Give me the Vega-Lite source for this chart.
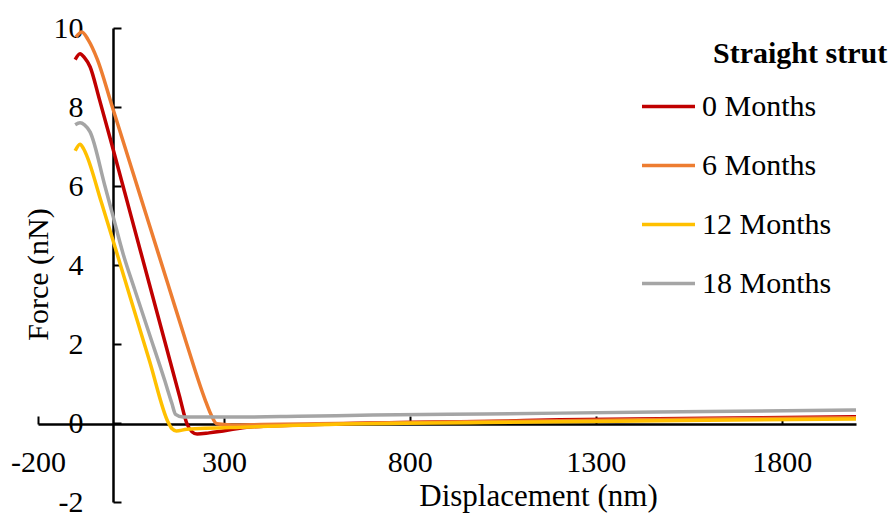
{
  "$schema": "https://vega.github.io/schema/vega-lite/v6.json",
  "width": 818,
  "height": 474,
  "autosize": {"type": "none"},
  "padding": {"left": 38, "top": 28, "right": 40, "bottom": 13},
  "background": "white",
  "config": {
    "view": {"stroke": null},
    "font": "Liberation Serif"
  },
  "data": {
    "values": [
      {"series": "0 Months", "x": -100, "y": 9.2},
      {"series": "0 Months", "x": -87, "y": 9.35},
      {"series": "0 Months", "x": -75, "y": 9.25},
      {"series": "0 Months", "x": -60, "y": 9.02},
      {"series": "0 Months", "x": -35, "y": 8.2},
      {"series": "0 Months", "x": 0, "y": 7.0},
      {"series": "0 Months", "x": 50, "y": 5.25},
      {"series": "0 Months", "x": 100, "y": 3.5},
      {"series": "0 Months", "x": 142, "y": 2.03},
      {"series": "0 Months", "x": 180, "y": 0.7},
      {"series": "0 Months", "x": 201, "y": -0.03},
      {"series": "0 Months", "x": 214, "y": -0.22},
      {"series": "0 Months", "x": 228, "y": -0.28},
      {"series": "0 Months", "x": 260, "y": -0.25},
      {"series": "0 Months", "x": 298, "y": -0.2},
      {"series": "0 Months", "x": 370, "y": -0.1},
      {"series": "0 Months", "x": 500, "y": -0.05},
      {"series": "0 Months", "x": 700, "y": 0.0},
      {"series": "0 Months", "x": 1000, "y": 0.04},
      {"series": "0 Months", "x": 1204, "y": 0.08},
      {"series": "0 Months", "x": 1600, "y": 0.12},
      {"series": "0 Months", "x": 2000, "y": 0.16},

      {"series": "6 Months", "x": -98, "y": 9.77},
      {"series": "6 Months", "x": -82, "y": 9.9},
      {"series": "6 Months", "x": -65, "y": 9.7},
      {"series": "6 Months", "x": -41, "y": 9.22},
      {"series": "6 Months", "x": 0, "y": 8.0},
      {"series": "6 Months", "x": 50, "y": 6.5},
      {"series": "6 Months", "x": 100, "y": 5.0},
      {"series": "6 Months", "x": 150, "y": 3.5},
      {"series": "6 Months", "x": 200, "y": 2.0},
      {"series": "6 Months", "x": 249, "y": 0.6},
      {"series": "6 Months", "x": 265, "y": 0.22},
      {"series": "6 Months", "x": 281, "y": -0.02},
      {"series": "6 Months", "x": 320, "y": -0.05},
      {"series": "6 Months", "x": 400, "y": -0.04},
      {"series": "6 Months", "x": 700, "y": 0.0},
      {"series": "6 Months", "x": 1000, "y": 0.04},
      {"series": "6 Months", "x": 1204, "y": 0.06},
      {"series": "6 Months", "x": 1600, "y": 0.1},
      {"series": "6 Months", "x": 2000, "y": 0.13},

      {"series": "12 Months", "x": -100, "y": 6.89},
      {"series": "12 Months", "x": -87, "y": 7.06},
      {"series": "12 Months", "x": -78, "y": 6.95},
      {"series": "12 Months", "x": -69, "y": 6.77},
      {"series": "12 Months", "x": -30, "y": 5.6},
      {"series": "12 Months", "x": 0, "y": 4.68},
      {"series": "12 Months", "x": 50, "y": 3.12},
      {"series": "12 Months", "x": 100, "y": 1.57},
      {"series": "12 Months", "x": 150, "y": 0.02},
      {"series": "12 Months", "x": 160, "y": -0.14},
      {"series": "12 Months", "x": 172, "y": -0.2},
      {"series": "12 Months", "x": 200, "y": -0.16},
      {"series": "12 Months", "x": 370, "y": -0.1},
      {"series": "12 Months", "x": 600, "y": -0.03},
      {"series": "12 Months", "x": 1000, "y": 0.01},
      {"series": "12 Months", "x": 1204, "y": 0.03},
      {"series": "12 Months", "x": 1600, "y": 0.07},
      {"series": "12 Months", "x": 2000, "y": 0.1},

      {"series": "18 Months", "x": -100, "y": 7.55},
      {"series": "18 Months", "x": -87, "y": 7.6},
      {"series": "18 Months", "x": -75, "y": 7.55},
      {"series": "18 Months", "x": -60, "y": 7.37},
      {"series": "18 Months", "x": -20, "y": 6.0},
      {"series": "18 Months", "x": 0, "y": 5.3},
      {"series": "18 Months", "x": 29, "y": 4.28},
      {"series": "18 Months", "x": 60, "y": 3.38},
      {"series": "18 Months", "x": 100, "y": 2.24},
      {"series": "18 Months", "x": 140, "y": 1.1},
      {"series": "18 Months", "x": 160, "y": 0.5},
      {"series": "18 Months", "x": 170, "y": 0.22},
      {"series": "18 Months", "x": 190, "y": 0.15},
      {"series": "18 Months", "x": 316, "y": 0.15},
      {"series": "18 Months", "x": 500, "y": 0.17},
      {"series": "18 Months", "x": 700, "y": 0.2},
      {"series": "18 Months", "x": 1000, "y": 0.23},
      {"series": "18 Months", "x": 1204, "y": 0.25},
      {"series": "18 Months", "x": 1600, "y": 0.29},
      {"series": "18 Months", "x": 2000, "y": 0.33}
    ]
  },
  "mark": {"type": "line", "strokeWidth": 3.5, "interpolate": "monotone"},
  "encoding": {
    "x": {
      "field": "x",
      "type": "quantitative",
      "scale": {"domain": [-200, 2000], "nice": false, "zero": false},
      "axis": {
        "title": "Displacement (nm)",
        "values": [-200, 300, 800, 1300, 1800],
        "labelExpr": "datum.value + ''",
        "offset": -78,
        "grid": false,
        "domainColor": "black",
        "domainWidth": 2.5,
        "tickColor": "black",
        "tickWidth": 2,
        "tickSize": -8,
        "labelFont": "Liberation Serif",
        "labelFontSize": 30,
        "labelColor": "black",
        "labelPadding": 31,
        "labelFlush": false,
        "labelOverlap": false,
        "titleFont": "Liberation Serif",
        "titleFontSize": 31,
        "titleFontWeight": "normal",
        "titleColor": "black",
        "titleX": 500,
        "titleY": 81,
        "titleBaseline": "alphabetic"
      }
    },
    "y": {
      "field": "y",
      "type": "quantitative",
      "scale": {"domain": [-2, 10], "nice": false, "zero": false},
      "axis": {
        "title": "Force (nN)",
        "values": [-2, 0, 2, 4, 6, 8, 10],
        "labelExpr": "datum.value + ''",
        "offset": -75,
        "grid": false,
        "domainColor": "black",
        "domainWidth": 2.5,
        "tickColor": "black",
        "tickWidth": 2,
        "tickSize": -8,
        "labelFont": "Liberation Serif",
        "labelFontSize": 30,
        "labelColor": "black",
        "labelPadding": 38,
        "labelFlush": false,
        "labelOverlap": false,
        "titleFont": "Liberation Serif",
        "titleFontSize": 30,
        "titleFontWeight": "normal",
        "titleColor": "black",
        "titleX": -66,
        "titleY": 246,
        "titleAngle": -90,
        "titleAlign": "center",
        "titleBaseline": "alphabetic"
      }
    },
    "color": {
      "field": "series",
      "type": "nominal",
      "sort": ["0 Months", "6 Months", "12 Months", "18 Months"],
      "scale": {
        "domain": ["0 Months", "6 Months", "12 Months", "18 Months"],
        "range": ["#C00000", "#ED7D31", "#FFC000", "#A5A5A5"]
      },
      "legend": {
        "title": "Straight strut",
        "orient": "none",
        "legendX": 602,
        "legendY": 11,
        "padding": 0,
        "titleFont": "Liberation Serif",
        "titleFontSize": 30,
        "titleFontWeight": "bold",
        "titleColor": "black",
        "titlePadding": 9,
        "labelFont": "Liberation Serif",
        "labelFontSize": 30,
        "labelColor": "black",
        "labelOffset": 5,
        "symbolType": "stroke",
        "symbolSize": 2809,
        "symbolStrokeWidth": 3.5,
        "rowPadding": 15,
        "encode": {"title": {"update": {"dx": {"value": 73}}}}
      }
    }
  }
}
